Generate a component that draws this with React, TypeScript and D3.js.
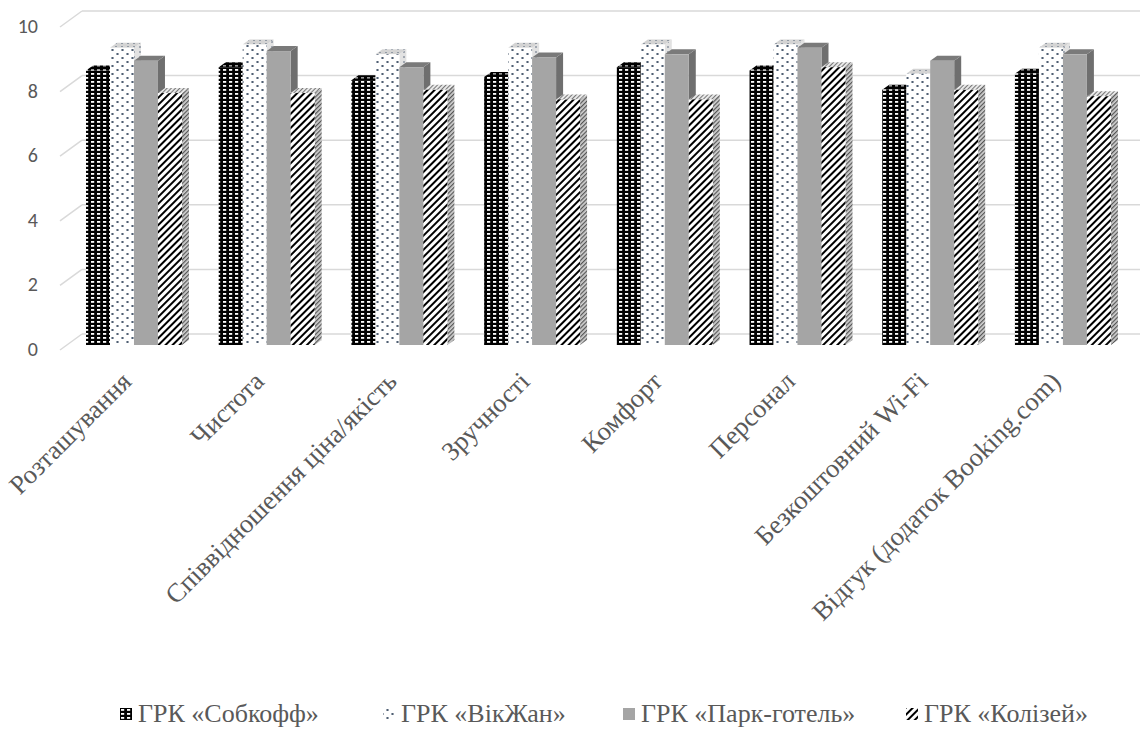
import React from "react";
import * as d3 from "d3";

const categories = [
  "Розташування",
  "Чистота",
  "Співвідношення ціна/якість",
  "Зручності",
  "Комфорт",
  "Персонал",
  "Безкоштовний Wi-Fi",
  "Відгук (додаток Booking.com)",
];
const seriesNames = ["ГРК «Собкофф»", "ГРК «ВікЖан»", "ГРК «Парк-готель»", "ГРК «Колізей»"];
const sobkoff = [8.5, 8.6, 8.2, 8.3, 8.6, 8.5, 7.9, 8.4];
const vikzhan = [9.2, 9.3, 9.0, 9.2, 9.3, 9.3, 8.4, 9.2];
const park = [8.8, 9.1, 8.6, 8.9, 9.0, 9.2, 8.8, 9.0];
const kolizei = [7.8, 7.8, 7.9, 7.6, 7.6, 8.6, 7.9, 7.7];
const yTicks = [0, 2, 4, 6, 8, 10];

const W = 1146;
const H = 731;

const seriesValues = [sobkoff, vikzhan, park, kolizei];

const fills = [
  { front: "url(#pBlack)", side: "url(#pBlackSide)", top: "url(#pBlackSide)" },
  { front: "url(#pDots)", side: "url(#pDotsSide)", top: "url(#pDotsTop)" },
  { front: "#a5a5a5", side: "#6f6f6f", top: "#7a7a7a" },
  { front: "url(#pStripe)", side: "url(#pStripeSide)", top: "url(#pStripeTop)" },
];

const SERIF = '"Times New Roman", "Liberation Serif", Tinos, "DejaVu Serif", serif';
const SANS = 'Carlito, Calibri, Lato, "Open Sans", sans-serif';

export default function App() {
  const x = d3
    .scaleBand<string>()
    .domain(categories)
    .range([46.2, 1150.7])
    .paddingInner(0.277)
    .paddingOuter(0.3);
  const xs = d3
    .scaleBand<number>()
    .domain([0, 1, 2, 3])
    .range([0, x.bandwidth()])
    .padding(0);
  const y = d3.scaleLinear().domain([0, 10]).range([345, 22]);

  const dx = 7;
  const dy = 5;
  const backOff = 11;
  const frontOff = 5;
  const wallLeft = 82;
  const frontLeft = 60;
  const wallRight = 1140;

  const textColor = "#595959";

  return (
    <svg
      width={W}
      height={H}
      style={{ position: "absolute", left: 0, top: 0, background: "#fff" }}
      xmlns="http://www.w3.org/2000/svg"
    >
      <defs>
        <pattern id="pBlack" width="6" height="4" patternUnits="userSpaceOnUse">
          <rect width="6" height="4" fill="#000" />
          <rect x="1" y="1" width="3.2" height="1.8" fill="#fff" />
        </pattern>
        <pattern id="pBlackSide" width="6" height="4" patternUnits="userSpaceOnUse">
          <rect width="6" height="4" fill="#000" />
          <rect x="1" y="1" width="3" height="1.6" fill="#9a9a9a" />
        </pattern>
        <pattern id="pDots" width="10" height="8" patternUnits="userSpaceOnUse">
          <rect width="10" height="8" fill="#fff" />
          <ellipse cx="2.5" cy="2" rx="1.3" ry="0.9" fill="#44546a" />
          <ellipse cx="7.5" cy="6" rx="1.3" ry="0.9" fill="#44546a" />
        </pattern>
        <pattern id="pDotsSide" width="6" height="5" patternUnits="userSpaceOnUse">
          <rect width="6" height="5" fill="#e2e2e2" />
          <ellipse cx="2" cy="2" rx="1" ry="0.8" fill="#6b7686" />
        </pattern>
        <pattern id="pDotsTop" width="6" height="3" patternUnits="userSpaceOnUse">
          <rect width="6" height="3" fill="#d4d4d4" />
          <ellipse cx="2" cy="1.5" rx="1" ry="0.6" fill="#7d8795" />
        </pattern>
        <pattern
          id="pStripe"
          width="5"
          height="5"
          patternUnits="userSpaceOnUse"
          patternTransform="rotate(45)"
        >
          <rect width="5" height="5" fill="#fff" />
          <rect x="0" y="0" width="2" height="5" fill="#000" />
        </pattern>
        <pattern
          id="pStripeSide"
          width="3"
          height="3"
          patternUnits="userSpaceOnUse"
          patternTransform="rotate(45)"
        >
          <rect width="3" height="3" fill="#d0d0d0" />
          <rect x="0" y="0" width="1.2" height="3" fill="#555" />
        </pattern>
        <pattern
          id="pStripeTop"
          width="3"
          height="3"
          patternUnits="userSpaceOnUse"
          patternTransform="rotate(45)"
        >
          <rect width="3" height="3" fill="#e8e8e8" />
          <rect x="0" y="0" width="1" height="3" fill="#777" />
        </pattern>
      </defs>

      {/* gridlines */}
      <g>
        {yTicks.map((t) => {
          const yb = y(t) - backOff;
          const yf = y(t) + frontOff;
          return (
            <g key={t}>
              <line x1={frontLeft} y1={yf} x2={wallLeft} y2={yb} stroke="#d9d9d9" strokeWidth={1.5} />
              <line x1={wallLeft} y1={yb} x2={wallRight} y2={yb} stroke="#d9d9d9" strokeWidth={1.5} />
            </g>
          );
        })}
      </g>

      {/* y labels */}
      <g>
        {yTicks.map((t) => (
          <text
            key={t}
            x={38}
            y={y(t) + frontOff + 6}
            textAnchor="end"
            style={{ fontFamily: SANS, fontSize: 20 }}
            fill={textColor}
          >
            {t}
          </text>
        ))}
      </g>

      {/* bars */}
      <g>
        {categories.map((c, ci) => (
          <g key={c}>
            {seriesValues.map((vals, si) => {
              const bx = (x(c) as number) + (xs(si) as number);
              const w = xs.bandwidth();
              const y0 = y(0);
              const yt = y(vals[ci]);
              const f = fills[si];
              const side = `${bx + w},${yt} ${bx + w + dx},${yt - dy} ${bx + w + dx},${y0 - dy} ${bx + w},${y0}`;
              const top = `${bx},${yt} ${bx + dx},${yt - dy} ${bx + w + dx},${yt - dy} ${bx + w},${yt}`;
              return (
                <g key={si}>
                  <polygon points={side} fill={f.side} />
                  <polygon points={top} fill={f.top} />
                  <rect x={bx} y={yt} width={w} height={y0 - yt} fill={f.front} />
                </g>
              );
            })}
          </g>
        ))}
      </g>

      {/* category labels */}
      <g>
        {categories.map((c) => {
          const cx = (x(c) as number) + x.bandwidth() / 2 - 1;
          const cy = 383;
          return (
            <text
              key={c}
              transform={`translate(${cx},${cy}) rotate(-45)`}
              textAnchor="end"
              style={{ fontFamily: SERIF, fontSize: 26.5 }}
              fill={textColor}
            >
              {c}
            </text>
          );
        })}
      </g>

      {/* legend */}
      <g>
        {seriesNames.map((n, i) => {
          const lx = [120, 383, 623, 906][i];
          return (
            <g key={n}>
              <rect x={lx} y={708} width={12} height={12} fill={fills[i].front} />
              <text x={lx + 18} y={722} style={{ fontFamily: SERIF, fontSize: 26 }} fill={textColor}>
                {n}
              </text>
            </g>
          );
        })}
      </g>
    </svg>
  );
}
